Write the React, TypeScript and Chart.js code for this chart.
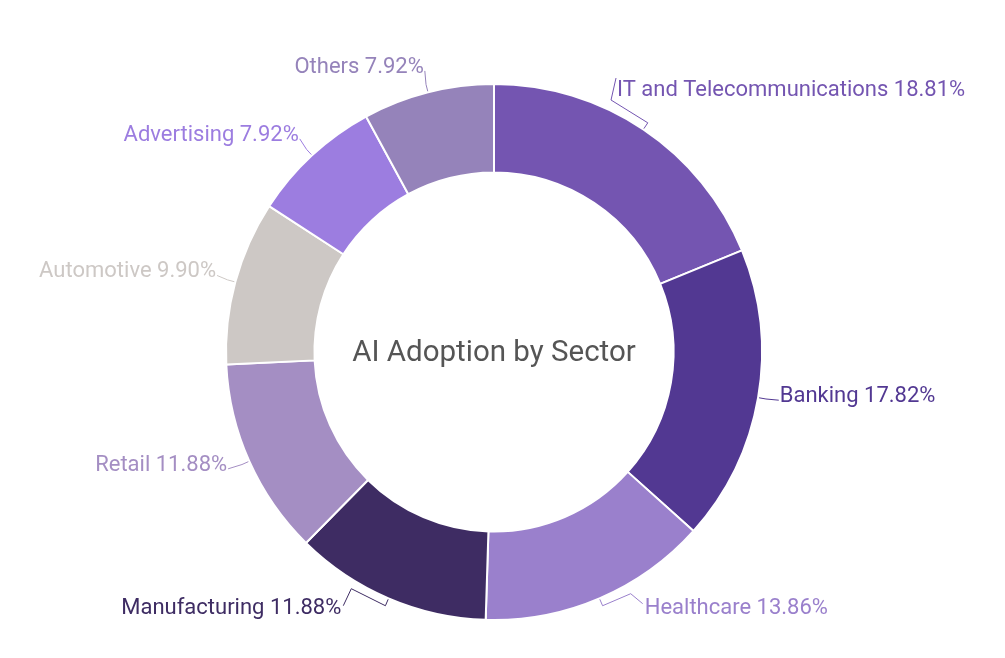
import React, { useEffect, useRef } from "react";
import { Chart, registerables } from "chart.js";

Chart.register(...registerables);

const categories = [
  "IT and Telecommunications",
  "Banking",
  "Healthcare",
  "Manufacturing",
  "Retail",
  "Automotive",
  "Advertising",
  "Others",
];
const values = [19, 18, 14, 12, 12, 10, 8, 8];
const colors = [
  "#7455b1",
  "#523892",
  "#9a80cc",
  "#3e2c63",
  "#a48ec3",
  "#cdc8c5",
  "#9c7de0",
  "#9583ba",
];
const centerTitle = "AI Adoption by Sector";

// label layout tweaks (annotation placement only): text nudge and leader path relative to text attach point
const labelLayout: { dx: number; dy: number; path: number[][] }[] = [
  { dx: -41, dy: -17, path: [[-5, 6], [0, -16]] },
  { dx: -2, dy: 0, path: [[0, 0]] },
  { dx: 34, dy: -5, path: [[-13, -18], [-1, -8]] },
  { dx: -36, dy: -5, path: [[9, -23], [1, -6]] },
  { dx: 0, dy: 0, path: [[0, 0]] },
  { dx: 4, dy: 0, path: [[0, 0]] },
  { dx: 4, dy: 0, path: [[0, 0]] },
  { dx: 4, dy: 0, path: [[0, 0]] },
];

const FONT = "Roboto, 'Noto Sans', sans-serif";

const labelPlugin = {
  id: "outerLabels",
  afterDatasetsDraw(chart: any) {
    const ctx = chart.ctx as CanvasRenderingContext2D;
    const meta = chart.getDatasetMeta(0);
    const data = chart.data.datasets[0].data as number[];
    const total = data.reduce((a, b) => a + b, 0);
    ctx.save();
    ctx.font = `22px ${FONT}`;
    meta.data.forEach((arc: any, i: number) => {
      const { x, y, startAngle, endAngle, outerRadius } = arc.getProps(
        ["x", "y", "startAngle", "endAngle", "outerRadius"],
        true
      );
      const mid = (startAngle + endAngle) / 2;
      const cos = Math.cos(mid);
      const sin = Math.sin(mid);
      const right = cos >= 0;
      const lay = labelLayout[i];
      const ex = x + cos * (outerRadius + 1);
      const ey = y + sin * (outerRadius + 1);
      const sx = x + cos * (outerRadius + 8);
      const sy = y + sin * (outerRadius + 8);
      const ax = x + cos * (outerRadius + 21) + lay.dx;
      const ay = y + sin * (outerRadius + 21) + lay.dy + 1;
      const tx = right ? ax + 2 : ax - 2;
      const color = colors[i];
      // leader line
      ctx.strokeStyle = color;
      ctx.lineWidth = 1;
      ctx.beginPath();
      ctx.moveTo(ex, ey);
      ctx.lineTo(sx, sy);
      lay.path.forEach((p) => ctx.lineTo(tx + p[0], ay - 2 + p[1]));
      ctx.stroke();
      // text
      const pct = ((data[i] / total) * 100).toFixed(2) + "%";
      const label = `${chart.data.labels[i]} ${pct}`;
      ctx.fillStyle = color;
      ctx.textAlign = right ? "left" : "right";
      ctx.textBaseline = "alphabetic";
      ctx.fillText(label, right ? tx + 1 : tx - 1, ay);
    });
    ctx.restore();
  },
};

const centerPlugin = {
  id: "centerTitle",
  afterDatasetsDraw(chart: any) {
    const ctx = chart.ctx as CanvasRenderingContext2D;
    const meta = chart.getDatasetMeta(0);
    const arc = meta.data[0];
    if (!arc) return;
    ctx.save();
    ctx.font = `29.5px ${FONT}`;
    ctx.fillStyle = "#555555";
    ctx.textAlign = "center";
    ctx.textBaseline = "middle";
    ctx.fillText(centerTitle, arc.x, arc.y + 2);
    ctx.restore();
  },
};

export default function App() {
  const ref = useRef<HTMLCanvasElement | null>(null);
  useEffect(() => {
    if (!ref.current) return;
    const chart = new Chart(ref.current, {
      type: "doughnut",
      data: {
        labels: categories,
        datasets: [
          {
            data: values,
            backgroundColor: colors,
            borderColor: "#ffffff",
            borderWidth: 2,
            hoverOffset: 0,
          },
        ],
      },
      options: {
        responsive: false,
        animation: false,
        cutout: "67%",
        layout: { padding: { top: 83, bottom: 37, left: 225, right: 242 } },
        plugins: {
          legend: { display: false },
          tooltip: { enabled: false },
          title: { display: false },
        },
      },
      plugins: [labelPlugin, centerPlugin],
    });
    return () => chart.destroy();
  }, []);
  return (
    <div style={{ position: "fixed", left: 0, top: 0, width: 1005, height: 658, background: "#fff" }}>
      <canvas ref={ref} width={1005} height={658} style={{ width: 1005, height: 658, display: "block" }} />
    </div>
  );
}
